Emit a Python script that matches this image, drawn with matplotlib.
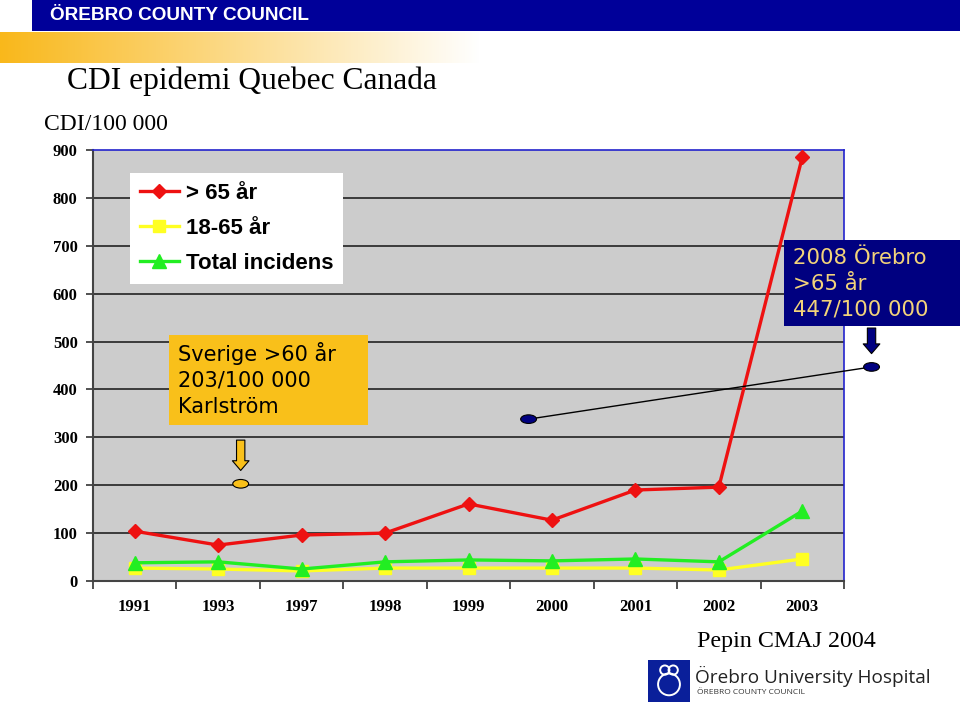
import numpy as np
import matplotlib
matplotlib.use("Agg")
import matplotlib.pyplot as plt
from matplotlib.patches import Rectangle, Ellipse, Circle

years = ["1991", "1993", "1997", "1998", "1999", "2000", "2001", "2002", "2003"]
over65 = [104, 75, 96, 100, 161, 127, 190, 196, 885]
age18_65 = [27, 25, 21, 27, 27, 27, 27, 23, 46]
total = [38, 40, 25, 40, 44, 42, 46, 40, 146]
yticks = [0, 100, 200, 300, 400, 500, 600, 700, 800, 900]
sverige = 203
orebro = 447

W, H = 960, 705
fig = plt.figure(figsize=(W / 100, H / 100), dpi=100)


def fx(x):
    return x / W


def fy(y):
    return 1 - y / H


serif = "Liberation Serif"
sans = "Liberation Sans"

# header band
fig.patches.append(Rectangle((fx(32), fy(31)), fx(928), 31 / H, transform=fig.transFigure,
                             facecolor="#000099", edgecolor="none"))
fig.text(fx(50), fy(16), "ÖREBRO COUNTY COUNCIL", color="white", fontsize=13.7,
         fontweight="bold", family=sans, va="center")
grad_ax = fig.add_axes([0, fy(63), fx(480), 31 / H])
grad = np.linspace(0, 1, 256)
c0 = np.array([249, 184, 27]) / 255
cols = c0[None, :] * (1 - grad[:, None]) + np.ones(3)[None, :] * grad[:, None]
grad_ax.imshow(cols[None, :, :], aspect="auto", extent=[0, 1, 0, 1])
grad_ax.axis("off")

fig.text(fx(67), fy(81), "CDI epidemi Quebec Canada", fontsize=22.7, family=serif, va="center")
fig.text(fx(44), fy(125), "CDI/100 000", fontsize=17, family=serif, va="center")

# main chart
ax = fig.add_axes([fx(93), fy(581), fx(844 - 93), (581 - 150) / H])
ax.set_facecolor("#CCCCCC")
x = np.arange(len(years))
ax.plot(x, over65, color="#EE1111", lw=2.4, marker="D", ms=7, label="> 65 år", zorder=4)
ax.plot(x, age18_65, color="#FFFF22", lw=2.4, marker="s", ms=9, label="18-65 år", zorder=3)
ax.plot(x, total, color="#22EE22", lw=2.4, marker="^", ms=10, label="Total incidens", zorder=3)
ax.set_xlim(-0.5, len(years) - 0.5)
ax.set_ylim(0, 900)
ax.set_yticks(yticks)
ax.set_yticklabels([str(v) for v in yticks], family=serif, fontweight="bold", fontsize=12)
for v in yticks[1:-1]:
    ax.axhline(v, color="#222222", lw=1.2, zorder=1)
ax.set_xticks(x)
ax.set_xticklabels(years, family=serif, fontweight="bold", fontsize=12)
ax.set_xticks(np.arange(-0.5, len(years)), minor=True)
ax.tick_params(axis="x", which="major", length=0, pad=13)
ax.tick_params(axis="x", which="minor", length=6, width=1.2, color="#333333")
ax.tick_params(axis="y", length=5, width=1.2, color="#333333", pad=6)
for s in ["left", "bottom"]:
    ax.spines[s].set_color("#444444")
    ax.spines[s].set_linewidth(1.5)
for s in ["top", "right"]:
    ax.spines[s].set_color("#2222CC")
    ax.spines[s].set_linewidth(1.2)

leg = ax.legend(loc="upper left", bbox_to_anchor=(fx(130), fy(173)),
                bbox_transform=fig.transFigure, frameon=True, fancybox=False,
                prop={"family": sans, "weight": "bold", "size": 16},
                handlelength=1.75, borderpad=0.45, labelspacing=0.62, handletextpad=0.3,
                borderaxespad=0)
leg.get_frame().set_edgecolor("none")
leg.get_frame().set_facecolor("white")
leg.get_frame().set_alpha(1)

# Sverige callout
fig.patches.append(Rectangle((fx(169), fy(425)), fx(199), 90 / H, transform=fig.transFigure,
                             facecolor="#F9C01A", edgecolor="none", zorder=5))
for i, t in enumerate(["Sverige >60 år", "203/100 000", "Karlström"]):
    fig.text(fx(178), fy(354 + 26.5 * i), t, fontsize=15, family="DejaVu Sans",
             va="center", zorder=6)
ax.annotate("", xy=(1.27, sverige + 22), xytext=(1.27, 300), annotation_clip=False,
            arrowprops=dict(arrowstyle="simple,head_width=1.2,head_length=0.7,tail_width=0.6",
                            fc="#F9C01A", ec="black", lw=0.8))
ax.add_patch(Ellipse((1.27, sverige), 0.19, 18, fc="#F9C01A", ec="black", lw=0.8,
                     clip_on=False, zorder=6))

# Orebro callout
fig.patches.append(Rectangle((fx(784), fy(326)), fx(176), 86 / H, transform=fig.transFigure,
                             facecolor="#000080", edgecolor="none", zorder=5))
for i, t in enumerate(["2008 Örebro", ">65 år", "447/100 000"]):
    fig.text(fx(793), fy(258 + 25.5 * i), t, fontsize=15.3, family="DejaVu Sans",
             color="#F2D37A", va="center", zorder=6)
ax.annotate("", xy=(8.83, orebro + 22), xytext=(8.83, 534), annotation_clip=False,
            arrowprops=dict(arrowstyle="simple,head_width=1.2,head_length=0.7,tail_width=0.6",
                            fc="#000080", ec="black", lw=0.8))
ax.plot([4.72, 8.83], [338, orebro], color="black", lw=1, clip_on=False, zorder=5)
ax.add_patch(Ellipse((8.83, orebro), 0.19, 18, fc="#000080", ec="black", lw=0.8,
                     clip_on=False, zorder=6))
ax.add_patch(Ellipse((4.72, 338), 0.19, 18, fc="#000080", ec="black", lw=0.8,
                     clip_on=False, zorder=6))

# footer
fig.text(fx(697), fy(642), "Pepin CMAJ 2004", fontsize=17.3, family=serif, va="center")
logo = fig.add_axes([fx(648), fy(702), fx(42), 42 / H])
logo.set_xlim(0, 1)
logo.set_ylim(0, 1)
logo.axis("off")
logo.add_patch(Rectangle((0, 0), 1, 1, facecolor="#0A1F9A", edgecolor="none"))
for cx, cy, r in [(0.4, 0.76, 0.11), (0.6, 0.76, 0.11), (0.5, 0.42, 0.26)]:
    logo.add_patch(Circle((cx, cy), r, fill=False, ec="white", lw=1.4))
fig.text(fx(695), fy(676), "Örebro University Hospital", fontsize=13.7, family="Open Sans",
         color="#222222", va="center")
fig.text(fx(697), fy(693), "ÖREBRO COUNTY COUNCIL", fontsize=6, family="Open Sans",
         color="#333333", va="center")

fig.savefig("out.png", dpi=100)
